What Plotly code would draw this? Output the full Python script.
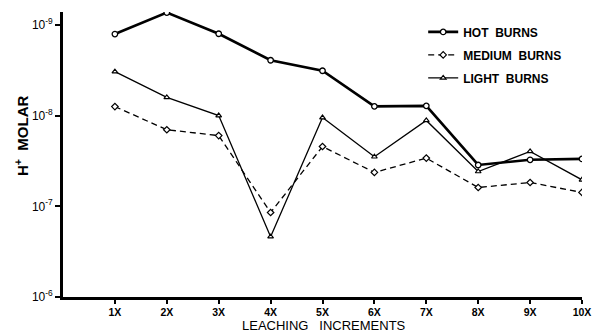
import plotly.graph_objects as go

increments = [1, 2, 3, 4, 5, 6, 7, 8, 9, 10]
tick_labels = ["1X", "2X", "3X", "4X", "5X", "6X", "7X", "8X", "9X", "10X"]

hot_burns = [1.26e-9, 7.3e-10, 1.25e-9, 2.45e-9, 3.2e-9, 7.9e-9, 7.8e-9, 3.5e-8, 3.07e-8, 3.0e-8]
medium_burns = [7.94e-9, 1.43e-8, 1.66e-8, 1.17e-7, 2.19e-8, 4.23e-8, 2.94e-8, 6.2e-8, 5.46e-8, 7.03e-8]
light_burns = [3.27e-9, 6.3e-9, 9.97e-9, 2.16e-7, 1.05e-8, 2.84e-8, 1.13e-8, 4.13e-8, 2.48e-8, 5.1e-8]

y_tickvals = [1e-9, 1e-8, 1e-7, 1e-6]
y_ticktext = ["10<sup>-9</sup>", "10<sup>-8</sup>", "10<sup>-7</sup>", "10<sup>-6</sup>"]

x_title = "LEACHING\u00a0\u00a0\u00a0INCREMENTS"
y_title = "H<sup>+</sup>\u00a0\u00a0MOLAR"

FONT = "Liberation Sans, Arial, sans-serif"

fig = go.Figure()
fig.add_trace(go.Scatter(
    x=increments, y=hot_burns, name="HOT\u00a0\u00a0BURNS", mode="lines+markers",
    legendgroup="hot",
    line=dict(color="black", width=2.6),
    marker=dict(symbol="circle", size=5.5, color="white", line=dict(color="black", width=1.3)),
))
fig.add_trace(go.Scatter(
    x=increments, y=medium_burns, name="MEDIUM\u00a0\u00a0BURNS", mode="lines+markers",
    legendgroup="medium",
    line=dict(color="black", width=1.3, dash="6px,4px"),
    marker=dict(symbol="diamond", size=5, color="white", line=dict(color="black", width=1.2)),
))
fig.add_trace(go.Scatter(
    x=increments, y=light_burns, name="LIGHT\u00a0\u00a0BURNS", mode="lines+markers",
    legendgroup="light",
    line=dict(color="black", width=1.3),
    marker=dict(symbol="triangle-up", size=5, color="white", line=dict(color="black", width=1.2)),
))

fig.update_layout(
    width=601, height=333,
    margin=dict(l=63, r=19, t=12, b=36, autoexpand=False),
    paper_bgcolor="white", plot_bgcolor="white",
    font=dict(family=FONT, color="black"),
    showlegend=True,
    legend=dict(
        x=0.694, y=0.981, xanchor="left", yanchor="top",
        bgcolor="rgba(0,0,0,0)",
        font=dict(family=FONT, size=12, color="black", weight="bold"),
        tracegroupgap=4,
        traceorder="grouped",
    ),
    annotations=[
        dict(text=x_title, xref="paper", yref="paper", x=0.503, y=0, yshift=-28.5,
             xanchor="center", yanchor="middle", showarrow=False,
             font=dict(family=FONT, size=13, color="black")),
        dict(text=y_title, xref="paper", yref="paper", x=0, xshift=-41, y=0.565,
             xanchor="center", yanchor="middle", textangle=-90, showarrow=False,
             font=dict(family=FONT, size=15, color="black", weight="bold")),
    ],
)

fig.update_xaxes(
    range=[0, 10],
    tickvals=increments, ticktext=tick_labels,
    showgrid=False, zeroline=False, automargin=False,
    showline=True, linecolor="black", linewidth=2.6,
    ticks="outside", ticklen=4, tickwidth=1.5, tickcolor="black",
    tickfont=dict(family=FONT, size=10.5, color="black", weight="bold"),
)

fig.update_yaxes(
    type="log",
    range=[-6, -9.143],
    tickvals=y_tickvals, ticktext=y_ticktext,
    showgrid=False, zeroline=False, automargin=False,
    showline=True, linecolor="black", linewidth=2.8,
    ticks="outside", ticklen=5, tickwidth=1.5, tickcolor="black",
    tickfont=dict(family=FONT, size=12, color="black"),
)

fig.write_html("out.html", config={"displayModeBar": False},
               post_script="document.body.style.margin='0px';")
